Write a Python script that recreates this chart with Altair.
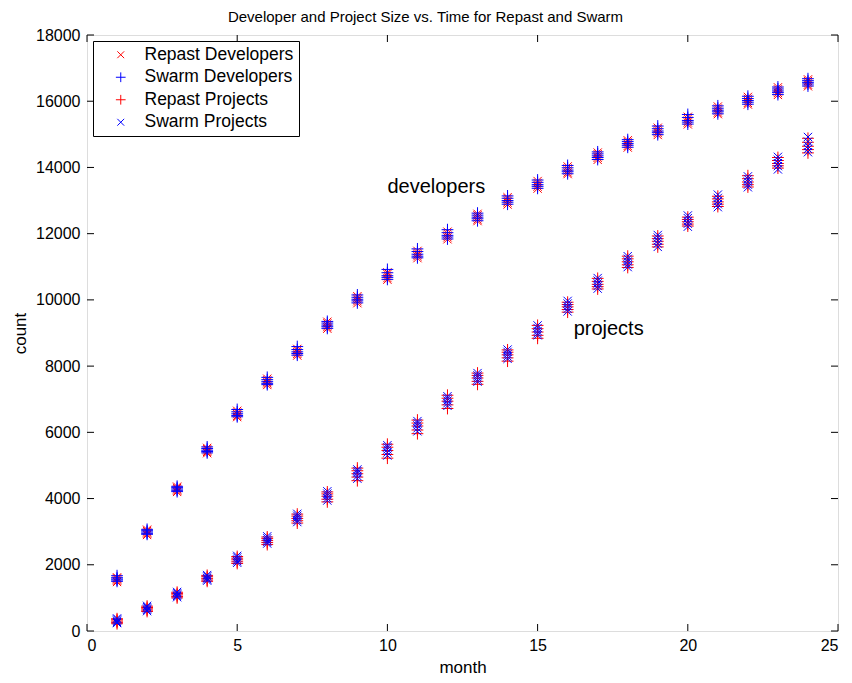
import altair as alt
import pandas as pd

months = list(range(1, 25))

series_names = ["Repast Developers", "Swarm Developers", "Repast Projects", "Swarm Projects"]
series_colors = ["#ff0000", "#0000ff", "#ff0000", "#0000ff"]
X_PATH = "M-0.7,-0.7L0.7,0.7M-0.7,0.7L0.7,-0.7"
PLUS_PATH = "M0,-1L0,1M-1,0L1,0"
series_shapes = [X_PATH, PLUS_PATH, PLUS_PATH, X_PATH]

# Repast Developers (red x): several runs per month
rd_lo = [1480, 2900, 4200, 5370, 6460, 7430, 8320, 9130, 9900, 10610, 11260, 11830, 12380, 12880, 13360, 13800, 14230, 14600, 14980, 15300, 15610, 15900, 16190, 16450]
rd_q1 = [1520, 2940, 4240, 5410, 6500, 7480, 8370, 9180, 9960, 10660, 11320, 11890, 12430, 12940, 13420, 13850, 14290, 14650, 15040, 15360, 15660, 15950, 16250, 16500]
rd_mid = [1560, 2980, 4280, 5450, 6550, 7520, 8420, 9230, 10010, 10720, 11370, 11940, 12490, 12990, 13470, 13910, 14340, 14710, 15090, 15410, 15720, 16010, 16300, 16560]
rd_q3 = [1590, 3020, 4320, 5490, 6600, 7570, 8470, 9290, 10060, 10780, 11420, 12000, 12550, 13050, 13530, 13970, 14400, 14770, 15150, 15470, 15780, 16070, 16360, 16610]
rd_hi = [1620, 3060, 4360, 5530, 6650, 7620, 8520, 9340, 10110, 10830, 11480, 12060, 12600, 13100, 13590, 14030, 14450, 14820, 15200, 15530, 15840, 16130, 16420, 16660]

# Swarm Developers (blue +)
sd_lo = [1500, 2920, 4210, 5380, 6470, 7440, 8330, 9140, 9910, 10620, 11270, 11840, 12390, 12890, 13370, 13810, 14240, 14610, 14990, 15310, 15620, 15910, 16200, 16460]
sd_q1 = [1540, 2950, 4250, 5420, 6510, 7480, 8380, 9190, 9970, 10680, 11320, 11900, 12450, 12950, 13430, 13870, 14300, 14670, 15050, 15370, 15680, 15970, 16260, 16520]
sd_mid = [1570, 2990, 4290, 5460, 6560, 7530, 8430, 9240, 10020, 10730, 11380, 11950, 12500, 13000, 13480, 13920, 14350, 14720, 15100, 15420, 15730, 16020, 16310, 16570]
sd_q3 = [1610, 3030, 4330, 5510, 6620, 7590, 8500, 9300, 10080, 10820, 11460, 12030, 12560, 13070, 13550, 13990, 14410, 14780, 15170, 15510, 15790, 16080, 16370, 16620]
sd_hi = [1670, 3070, 4370, 5560, 6690, 7660, 8590, 9350, 10150, 10920, 11540, 12120, 12620, 13140, 13620, 14060, 14470, 14840, 15250, 15600, 15860, 16150, 16430, 16680]

# Repast Projects (red +)
rp_lo = [220, 590, 1000, 1500, 2040, 2610, 3260, 3900, 4540, 5220, 5960, 6720, 7450, 8150, 8840, 9630, 10330, 10980, 11600, 12230, 12820, 13410, 13980, 14440]
rp_q1 = [260, 630, 1040, 1540, 2090, 2670, 3330, 3980, 4650, 5330, 6070, 6830, 7540, 8250, 8930, 9710, 10400, 11060, 11680, 12290, 12890, 13480, 14050, 14540]
rp_mid = [300, 670, 1090, 1590, 2150, 2730, 3400, 4070, 4750, 5450, 6190, 6940, 7640, 8340, 9030, 9790, 10470, 11150, 11770, 12360, 12960, 13560, 14120, 14640]
rp_q3 = [340, 710, 1130, 1640, 2200, 2790, 3470, 4140, 4840, 5550, 6280, 7030, 7720, 8420, 9130, 9860, 10560, 11240, 11850, 12430, 13050, 13660, 14210, 14760]
rp_hi = [370, 750, 1170, 1680, 2250, 2840, 3530, 4200, 4920, 5640, 6370, 7120, 7790, 8490, 9230, 9930, 10650, 11320, 11930, 12500, 13130, 13750, 14300, 14880]

# Swarm Projects (blue x)
sp_lo = [240, 600, 1020, 1520, 2060, 2640, 3290, 3940, 4600, 5300, 6030, 6800, 7530, 8220, 8930, 9650, 10340, 10990, 11600, 12210, 12800, 13400, 13940, 14460]
sp_q1 = [270, 640, 1060, 1560, 2110, 2690, 3350, 4010, 4680, 5390, 6120, 6880, 7590, 8290, 8990, 9730, 10420, 11070, 11700, 12300, 12890, 13480, 14040, 14560]
sp_mid = [310, 680, 1100, 1600, 2160, 2740, 3420, 4090, 4770, 5480, 6210, 6960, 7660, 8360, 9060, 9810, 10500, 11160, 11790, 12380, 12980, 13570, 14130, 14650]
sp_q3 = [350, 720, 1140, 1650, 2220, 2800, 3480, 4150, 4830, 5550, 6280, 7030, 7720, 8430, 9150, 9890, 10580, 11240, 11880, 12470, 13080, 13650, 14230, 14780]
sp_hi = [380, 760, 1180, 1690, 2270, 2860, 3540, 4220, 4880, 5610, 6340, 7090, 7790, 8500, 9230, 9970, 10660, 11320, 11960, 12550, 13180, 13730, 14320, 14920]

x_ticks = [0, 5, 10, 15, 20, 25]
y_ticks = [0, 2000, 4000, 6000, 8000, 10000, 12000, 14000, 16000, 18000]

annot_labels = ["developers", "projects"]
annot_month = [10.0, 16.2]
annot_count = [13400, 9120]

title_text = "Developer and Project Size vs. Time for Repast and Swarm"

FONT = "Liberation Sans"
W, H = 751, 596

rows = []
idx = 0
all_series = [
    (series_names[0], [rd_lo, rd_q1, rd_mid, rd_q3, rd_hi]),
    (series_names[1], [sd_lo, sd_q1, sd_mid, sd_q3, sd_hi]),
    (series_names[2], [rp_lo, rp_q1, rp_mid, rp_q3, rp_hi]),
    (series_names[3], [sp_lo, sp_q1, sp_mid, sp_q3, sp_hi]),
]
for name, runs in all_series:
    for run in runs:
        for m, v in zip(months, run):
            rows.append({"month": m, "count": v, "series": name, "idx": idx})
            idx += 1
df = pd.DataFrame(rows)

legend = alt.Legend(
    title=None,
    orient="top-left",
    offset=6,
    padding=5,
    strokeColor="black",
    fillColor="white",
    labelFont=FONT,
    labelFontSize=17.5,
    labelColor="black",
    symbolSize=95,
    symbolStrokeWidth=1,
    symbolFillColor="transparent",
    symbolOffset=14,
    labelOffset=15,
    rowPadding=3.5,
    labelLimit=400,
)

xscale = alt.Scale(domain=[0, 25], nice=False, zero=False)
yscale = alt.Scale(domain=[0, 18000], nice=False, zero=False)

xaxis = alt.Axis(
    values=x_ticks, domain=False, ticks=False, tickSize=0, grid=False, format="d",
    labelFont=FONT, labelFontSize=16, labelColor="black", labelPadding=6,
    title="month", titleFont=FONT, titleFontSize=17, titleFontWeight="normal",
    titleColor="black", titlePadding=6,
)
yaxis = alt.Axis(
    values=y_ticks, domain=False, ticks=False, tickSize=0, grid=False, format="d",
    labelFont=FONT, labelFontSize=16, labelColor="black", labelPadding=7,
    title="count", titleFont=FONT, titleFontSize=17, titleFontWeight="normal",
    titleColor="black", titlePadding=6,
)

points = alt.Chart(df).mark_point(
    filled=False, strokeWidth=1, opacity=1, strokeOpacity=1, fillOpacity=0, size=140
).encode(
    x=alt.X("month:Q", scale=xscale, axis=xaxis),
    y=alt.Y("count:Q", scale=yscale, axis=yaxis),
    color=alt.Color("series:N", scale=alt.Scale(domain=series_names, range=series_colors), legend=legend),
    shape=alt.Shape("series:N", scale=alt.Scale(domain=series_names, range=series_shapes), legend=legend),
    order=alt.Order("idx:Q"),
)

xt = pd.DataFrame({"month": x_ticks})
yt = pd.DataFrame({"count": y_ticks})
TL = 7
xtick_bottom = alt.Chart(xt).mark_rule(color="black", strokeWidth=1).encode(
    x=alt.X("month:Q", scale=xscale), y=alt.value(H), y2=alt.value(H - TL))
xtick_top = alt.Chart(xt).mark_rule(color="black", strokeWidth=1).encode(
    x=alt.X("month:Q", scale=xscale), y=alt.value(0), y2=alt.value(TL))
ytick_left = alt.Chart(yt).mark_rule(color="black", strokeWidth=1).encode(
    y=alt.Y("count:Q", scale=yscale), x=alt.value(0), x2=alt.value(TL))
ytick_right = alt.Chart(yt).mark_rule(color="black", strokeWidth=1).encode(
    y=alt.Y("count:Q", scale=yscale), x=alt.value(W), x2=alt.value(W - TL))

ann = pd.DataFrame({"label": annot_labels, "month": annot_month, "count": annot_count})
texts = alt.Chart(ann).mark_text(
    align="left", baseline="middle", font=FONT, fontSize=20, color="black"
).encode(
    x=alt.X("month:Q", scale=xscale),
    y=alt.Y("count:Q", scale=yscale),
    text="label:N",
)

chart = alt.layer(
    xtick_bottom, xtick_top, ytick_left, ytick_right, points, texts
).properties(
    width=W,
    height=H,
    title=alt.TitleParams(
        text=title_text, font=FONT, fontSize=15, fontWeight="normal",
        color="black", anchor="middle", frame="group", baseline="bottom",
        offset=-13, dx=-37,
    ),
    autosize=alt.AutoSizeParams(type="none"),
    padding={"left": 79, "top": 27, "right": 6, "bottom": 44},
).configure_view(
    stroke="black", strokeWidth=1
).configure(background="white")

chart.save("out.html", embed_options={"renderer": "svg", "actions": False})
